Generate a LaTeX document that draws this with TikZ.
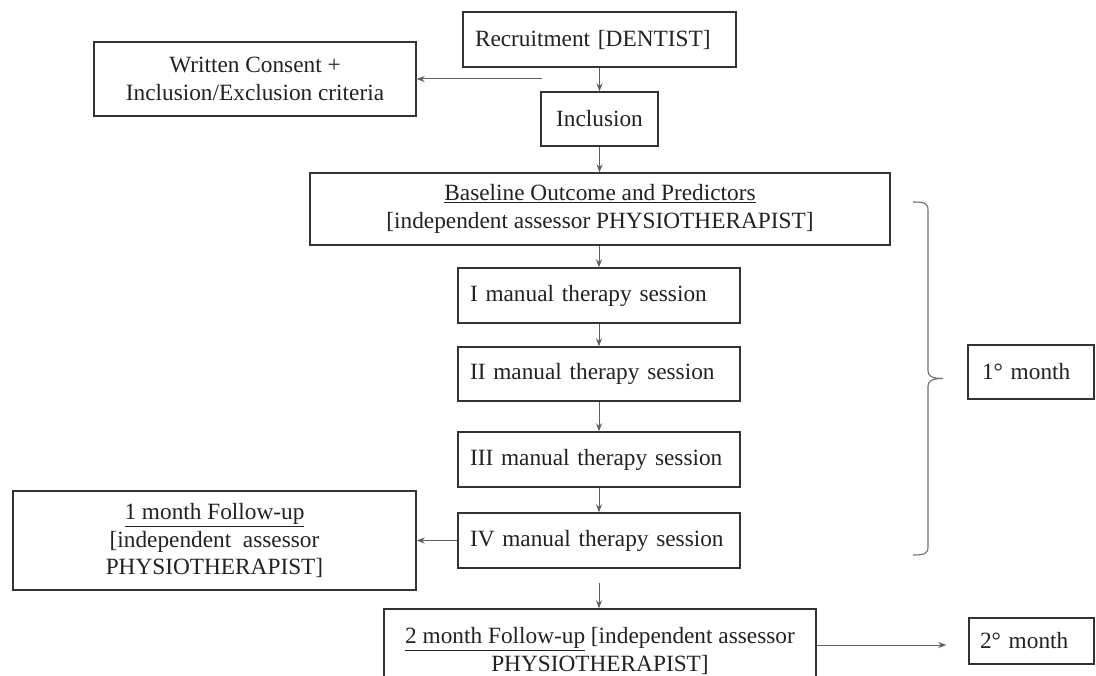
\documentclass[tikz,border=0pt]{standalone}
\usepackage{fontspec}
\setmainfont{Liberation Serif}
\usetikzlibrary{arrows.meta}
\definecolor{boxline}{HTML}{333333}
\definecolor{arrline}{HTML}{5E5E5E}
\definecolor{braceline}{HTML}{707070}
\definecolor{txt}{HTML}{222222}
\begin{document}
\begin{tikzpicture}[x=1pt,y=-1pt,
  box/.style={draw=boxline,line width=1.4pt,inner xsep=6pt,inner ysep=0pt,align=center,
    text=txt,font=\fontsize{23.3}{27.5}\selectfont},
  lbox/.style={box,align=left,inner xsep=12pt,text width=258pt,minimum width=282pt},
  arr/.style={draw=arrline,line width=1pt,-{Stealth[length=8pt,width=6pt]}}]
\useasboundingbox (0,0) rectangle (1096,676);
\fill[white] (0,0) rectangle (1096,676);
\clip (0,0) rectangle (1096,676);

\node[box,align=left,inner xsep=12pt,text width=249pt,minimum width=273pt,minimum height=55pt] (rec) at (599.5,39.5) {Recruitment [DENTIST]};
\node[box,minimum width=322pt,minimum height=74pt] (wc) at (255,79) {Written Consent +\\Inclusion/Exclusion criteria};
\node[box,minimum width=117pt,minimum height=54pt] (inc) at (599.5,119) {Inclusion};
\node[box,minimum width=580pt,minimum height=72pt] (base) at (600,209) {\underline{Baseline Outcome and Predictors}\\{}[independent assessor PHYSIOTHERAPIST]};
\node[lbox,minimum height=55pt] (s1) at (599,295.5) {I manual therapy session};
\node[lbox,minimum height=54pt] (s2) at (599,374) {II manual therapy session};
\node[lbox,minimum height=55pt] (s3) at (599,459.5) {III manual therapy session};
\node[lbox,minimum height=55pt] (s4) at (599,540.5) {IV manual therapy session};
\node[box,minimum width=403pt,minimum height=99pt] (fu1) at (214.5,540.5) {\underline{1 month Follow-up}\\{}[independent\ \ assessor\\PHYSIOTHERAPIST]};
\node[box,minimum width=432pt,minimum height=84pt] (fu2) at (600,651) {\underline{2 month Follow-up} [independent assessor\\PHYSIOTHERAPIST]};
\node[box,align=left,inner xsep=14pt,text width=98pt,minimum width=126pt,minimum height=54pt] (m1) at (1031,372) {1° month};
\node[box,align=left,inner xsep=11pt,text width=103pt,minimum width=125pt,minimum height=46pt] (m2) at (1031.5,641) {2° month};

\coordinate (c1) at (542,79);
\draw[arr] (rec.south) -- (rec.south |- inc.north);
\draw[arr] (c1) -- (wc.east);
\draw[arr] (inc.south) -- (inc.south |- base.north);
\draw[arr] (s1.north |- base.south) -- (s1.north);
\draw[arr] (s1.south) -- (s2.north);
\draw[arr] (s2.south) -- (s3.north);
\draw[arr] (s3.south) -- (s4.north);
\draw[arr] (s4.west) -- (fu1.east);
\draw[arr,shorten <=14pt] (s4.south) -- (s4.south |- fu2.north);
\draw[arr,shorten >=22pt] ([yshift=6pt]fu2.east) -- ([yshift=-4pt]m2.west);

% brace
\draw[braceline,line width=1.1pt]
  (913,202) .. controls (924,202) and (928,203) .. (928,210) -- (928,371)
  .. controls (928,376) and (932,378.5) .. (943,378.5)
  .. controls (932,378.5) and (928,381) .. (928,386) -- (928,547)
  .. controls (928,554) and (924,555) .. (913,555);
\end{tikzpicture}
\end{document}
